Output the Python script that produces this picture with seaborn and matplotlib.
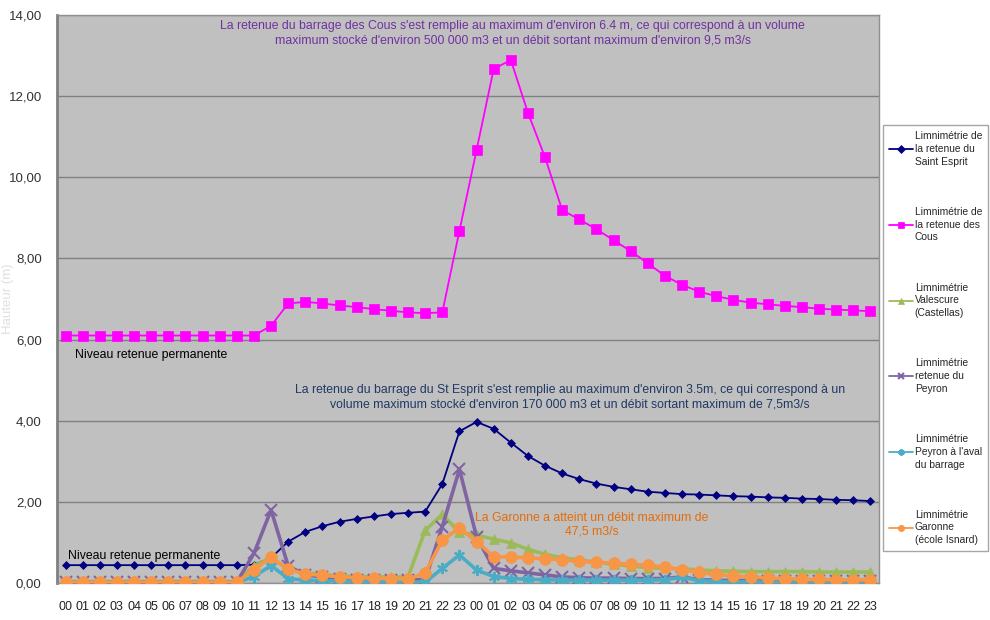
import matplotlib
matplotlib.use("Agg")
import matplotlib.pyplot as plt
import seaborn as sns
import pandas as pd

hours = ["00", "01", "02", "03", "04", "05", "06", "07", "08", "09", "10", "11",
         "12", "13", "14", "15", "16", "17", "18", "19", "20", "21", "22", "23"]
tick_labels = hours + hours

saint_esprit = [0.44, 0.44, 0.44, 0.44, 0.44, 0.44, 0.44, 0.44, 0.44, 0.44, 0.44, 0.45,
                0.62, 1.02, 1.26, 1.40, 1.51, 1.58, 1.64, 1.70, 1.73, 1.76, 2.44, 3.74,
                3.97, 3.80, 3.46, 3.13, 2.89, 2.70, 2.56, 2.45, 2.37, 2.31, 2.25, 2.22,
                2.19, 2.18, 2.16, 2.14, 2.13, 2.11, 2.10, 2.08, 2.07, 2.05, 2.04, 2.02]
cous = [6.10, 6.10, 6.10, 6.10, 6.10, 6.10, 6.10, 6.10, 6.10, 6.10, 6.10, 6.10,
        6.34, 6.89, 6.93, 6.89, 6.84, 6.80, 6.75, 6.71, 6.67, 6.65, 6.67, 8.68,
        10.67, 12.67, 12.89, 11.59, 10.49, 9.19, 8.96, 8.72, 8.45, 8.18, 7.88, 7.57,
        7.35, 7.18, 7.07, 6.98, 6.91, 6.87, 6.83, 6.80, 6.76, 6.74, 6.72, 6.70]
valescure = [0.04, 0.04, 0.04, 0.04, 0.04, 0.04, 0.04, 0.04, 0.04, 0.04, 0.04, 0.42,
             0.62, 0.34, 0.25, 0.21, 0.17, 0.16, 0.15, 0.15, 0.15, 1.30, 1.69, 1.25,
             1.18, 1.08, 0.99, 0.83, 0.71, 0.62, 0.57, 0.51, 0.46, 0.42, 0.38, 0.36,
             0.35, 0.32, 0.30, 0.29, 0.28, 0.28, 0.28, 0.28, 0.27, 0.27, 0.27, 0.27]
peyron = [0.02, 0.02, 0.02, 0.02, 0.02, 0.02, 0.02, 0.02, 0.02, 0.02, 0.02, 0.73,
          1.80, 0.42, 0.20, 0.15, 0.09, 0.08, 0.08, 0.08, 0.08, 0.08, 1.39, 2.80,
          1.14, 0.36, 0.30, 0.25, 0.20, 0.15, 0.13, 0.12, 0.12, 0.11, 0.11, 0.11,
          0.15, 0.08, 0.07, 0.06, 0.06, 0.06, 0.05, 0.05, 0.05, 0.05, 0.05, 0.05]
peyron_aval = [0.01, 0.01, 0.01, 0.01, 0.01, 0.01, 0.01, 0.01, 0.01, 0.01, 0.01, 0.16,
               0.43, 0.11, 0.07, 0.06, 0.05, 0.04, 0.04, 0.04, 0.03, 0.02, 0.36, 0.69,
               0.32, 0.16, 0.11, 0.09, 0.08, 0.07, 0.07, 0.07, 0.07, 0.07, 0.07, 0.08,
               0.14, 0.06, 0.04, 0.03, 0.03, 0.02, 0.02, 0.02, 0.02, 0.02, 0.02, 0.02]
garonne = [0.02, 0.02, 0.02, 0.02, 0.02, 0.02, 0.02, 0.02, 0.02, 0.02, 0.02, 0.33,
           0.63, 0.34, 0.22, 0.19, 0.15, 0.13, 0.12, 0.11, 0.09, 0.25, 1.05, 1.36,
           1.02, 0.65, 0.64, 0.62, 0.60, 0.57, 0.53, 0.51, 0.49, 0.46, 0.44, 0.39,
           0.33, 0.26, 0.21, 0.17, 0.15, 0.12, 0.11, 0.09, 0.09, 0.08, 0.08, 0.08]

series = [
    ("Limnimétrie de\nla retenue du\nSaint Esprit", saint_esprit, "#000080", "D", 4, 1.3),
    ("Limnimétrie de\nla retenue des\nCous", cous, "#FF00FF", "s", 6.5, 1.3),
    ("Limnimétrie\nValescure\n(Castellas)", valescure, "#9BBB59", "^", 6.5, 2.6),
    ("Limnimétrie\nretenue du\nPeyron", peyron, "#8064A2", "x", 8, 2.6),
    ("Limnimétrie\nPeyron à l'aval\ndu barrage", peyron_aval, "#4BACC6", (6, 2, 0), 8, 2.6),
    ("Limnimétrie\nGaronne\n(école Isnard)", garonne, "#F79646", "o", 8.5, 2.6),
]

sns.set_style("white")
plt.rcParams["font.family"] = ["Liberation Sans", "DejaVu Sans"]

fig = plt.figure(figsize=(9.9, 6.2), dpi=100)
ax = fig.add_axes([57 / 990, 1 - 583 / 620, 822 / 990, 568 / 620])
ax.set_facecolor("#C0C0C0")

x = list(range(len(tick_labels)))
for z, (name, vals, color, marker, ms, lw) in enumerate(series):
    df = pd.DataFrame({"x": x, "y": vals})
    sns.lineplot(data=df, x="x", y="y", ax=ax, color=color, marker=marker,
                 markersize=ms, linewidth=lw, markeredgecolor=color,
                 markeredgewidth=1.5 if marker in ("x", (6, 2, 0)) else 0.5,
                 label=name, zorder=3 + z)

ax.set_xlim(-0.5, 47.5)
ax.set_ylim(0, 14)
ax.set_yticks([0, 2, 4, 6, 8, 10, 12, 14])
ax.set_yticklabels(["0,00", "2,00", "4,00", "6,00", "8,00", "10,00", "12,00", "14,00"],
                   fontsize=9.5, color="#333333")
ax.set_xticks(x)
ax.set_xticklabels(tick_labels, fontsize=9, color="#222222")
ax.set_xticks([i - 0.5 for i in range(49)], minor=True)
ax.tick_params(axis="x", which="major", length=0, pad=13)
ax.tick_params(axis="x", which="minor", length=4, color="#808080", direction="out")
ax.tick_params(axis="y", length=5, color="#808080", direction="out", pad=6)
ax.grid(axis="y", color="#808080", linewidth=1)
ax.set_axisbelow(True)
ax.set_xlabel("")
ax.set_ylabel("Hauteur (m)", fontsize=9.5, color="#E0E0E0")
ax.yaxis.set_label_coords(-43 / 822, 0.5)
for side in ["top", "right", "bottom"]:
    ax.spines[side].set_color("#909090")
    ax.spines[side].set_linewidth(1)
ax.spines["left"].set_color("#808080")
ax.spines["left"].set_linewidth(2)

ax.text(26.1, 13.55,
        "La retenue du barrage des Cous s'est remplie au maximum d'environ 6.4 m, ce qui correspond à un volume\n"
        "maximum stocké d'environ 500 000 m3 et un débit sortant maximum d'environ 9,5 m3/s",
        ha="center", va="center", multialignment="center", fontsize=8.8, color="#7030A0")
ax.text(0.55, 5.62, "Niveau retenue permanente", ha="left", va="center", fontsize=8.8, color="black")
ax.text(0.14, 0.67, "Niveau retenue permanente", ha="left", va="center", fontsize=8.8, color="black")
ax.text(29.46, 4.58,
        "La retenue du barrage du St Esprit s'est remplie au maximum d'environ 3.5m, ce qui correspond à un\n"
        "volume maximum stocké d'environ 170 000 m3 et un débit sortant maximum de 7,5m3/s",
        ha="center", va="center", multialignment="center", fontsize=8.8, color="#1F3864")
ax.text(30.74, 1.43, "La Garonne a atteint un débit maximum de\n47,5 m3/s",
        ha="center", va="center", multialignment="center", fontsize=8.8, color="#E46C0A")

handles, labels = ax.get_legend_handles_labels()
ax.get_legend().remove()
leg = fig.legend(handles, labels, loc="upper left", bbox_to_anchor=(883 / 990, 1 - 125 / 620),
                 fontsize=7.4, frameon=True, fancybox=False, edgecolor="#909090",
                 labelspacing=3.9, handlelength=2.3, handletextpad=0.2,
                 borderpad=0.6, borderaxespad=0)
leg.get_frame().set_linewidth(1)
for t in leg.get_texts():
    t.set_linespacing(1.35)
for h in leg.legend_handles:
    h.set_linewidth(1.3)
    h.set_markersize(4.5)

fig.savefig("out.png", dpi=100)
